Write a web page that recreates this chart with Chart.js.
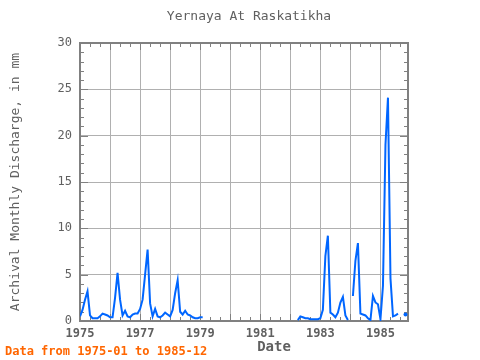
<!DOCTYPE html>
<html>
<head>
    <script src="https://cdn.jsdelivr.net/npm/chart.js"></script>
    <style>
        body { margin: 0; background: #fff; }
        #wrap { width: 480px; height: 360px; }
    </style>
</head>
<body>
    <div id="wrap"><canvas id="chart" width="480" height="360"></canvas></div>
    <script>
        // monthly discharge, mm (null = no data)
        const y1975 = [0.5, 1.2, 2.3, 3.2, 0.6, 0.3, 0.3, 0.3, 0.5, 0.8, 0.7, 0.6];
        const y1976 = [0.4, 0.4, 2.5, 5.2, 2.3, 0.6, 1.1, 0.5, 0.4, 0.7, 0.8, 0.8];
        const y1977 = [1.3, 2.3, 5.0, 7.7, 1.9, 0.5, 1.3, 0.5, 0.4, 0.6, 0.9, 0.7];
        const y1978 = [0.5, 1.2, 3.0, 4.4, 1.0, 0.7, 1.1, 0.7, 0.6, 0.4, 0.3, 0.3];
        const y1979 = [0.4, 0.4, null, null, null, null, null, null, null, null, null, null];
        const y1980 = [null, null, null, null, null, null, null, null, null, null, null, null];
        const y1981 = [null, null, null, null, null, null, null, null, null, null, null, null];
        const y1982 = [null, null, null, 0.1, 0.5, 0.4, 0.3, 0.3, 0.2, 0.2, 0.2, 0.2];
        const y1983 = [0.3, 1.2, 7.0, 9.2, 0.9, 0.7, 0.4, 0.9, 2.0, 2.6, 0.6, 0.1];
        const y1984 = [null, 2.7, 6.5, 8.4, 0.8, 0.7, 0.6, 0.3, 0.1, 2.7, 2.0, 1.8];
        const y1985 = [0.2, 3.8, 19.0, 24.1, 4.6, 0.5, 0.6, 0.8, null, null, 0.7, null];

        const startYear = 1975;
        const yTicks = [0, 5, 10, 15, 20, 25, 30];
        const xLabelYears = [1975, 1977, 1979, 1981, 1983, 1985];

        const values = [].concat(y1975, y1976, y1977, y1978, y1979, y1980,
                                 y1981, y1982, y1983, y1984, y1985);
        const points = values.map((v, i) => ({ x: startYear + i / 12, y: v }));

        const FONT = 'DejaVu Sans Mono';
        const TEXT = '#606060';
        const FRAME = '#808080';

        // frame with inward ticks, plus the title texts placed like the original
        const framePlugin = {
            id: 'frame',
            beforeDatasetsDraw(chart) {
                const { ctx, chartArea: a, scales } = chart;
                const xs = scales.x, ys = scales.y;
                ctx.save();
                ctx.strokeStyle = FRAME;
                ctx.lineWidth = 1;
                ctx.beginPath();
                for (let m = 0; m <= 132; m += 4) {
                    const px = Math.round(xs.getPixelForValue(startYear + m / 12)) + 0.5;
                    if (px > a.right) break;
                    const len = m % 12 === 0 ? 7 : 4;
                    ctx.moveTo(px, a.top); ctx.lineTo(px, a.top + len);
                    ctx.moveTo(px, a.bottom); ctx.lineTo(px, a.bottom - len);
                }
                for (let v = 0; v <= 30; v++) {
                    const py = Math.round(ys.getPixelForValue(v)) + 0.5;
                    const len = v % 5 === 0 ? 8 : 4;
                    ctx.moveTo(a.left, py); ctx.lineTo(a.left + len, py);
                    ctx.moveTo(a.right, py); ctx.lineTo(a.right - len, py);
                }
                ctx.stroke();
                ctx.lineWidth = 2;
                ctx.strokeRect(a.left, a.top, a.right - a.left, a.bottom - a.top);
                ctx.restore();
            },
            afterDraw(chart) {
                const ctx = chart.ctx;
                ctx.save();
                ctx.textBaseline = 'middle';
                ctx.textAlign = 'center';
                ctx.fillStyle = TEXT;
                ctx.font = '13px "' + FONT + '"';
                ctx.fillText('Yernaya At Raskatikha', 249, 17);
                ctx.font = 'bold 14px "' + FONT + '"';
                ctx.fillText('Date', 274, 347);
                ctx.textAlign = 'left';
                ctx.font = 'bold 12px "' + FONT + '"';
                ctx.fillStyle = '#ff6600';
                ctx.fillText('Data from 1975-01 to 1985-12', 5, 352);
                ctx.restore();
            }
        };

        const ctx = document.getElementById('chart').getContext('2d');
        new Chart(ctx, {
            type: 'line',
            data: {
                datasets: [{
                    label: 'Discharge',
                    data: points,
                    borderColor: '#0066ff',
                    backgroundColor: '#0066ff',
                    borderWidth: 2,
                    spanGaps: false,
                    tension: 0,
                    pointRadius: c => {
                        const i = c.dataIndex;
                        const prev = i > 0 ? values[i - 1] : null;
                        const next = i < values.length - 1 ? values[i + 1] : null;
                        return values[i] != null && prev == null && next == null ? 2 : 0;
                    },
                    pointBorderWidth: 0
                }]
            },
            plugins: [framePlugin],
            options: {
                responsive: false,
                animation: false,
                layout: { padding: { left: 0, right: 72, top: 43, bottom: 0 } },
                plugins: {
                    legend: { display: false },
                    tooltip: { enabled: false },
                    title: { display: false }
                },
                scales: {
                    x: {
                        type: 'linear',
                        min: startYear,
                        max: startYear + (values.length - 1) / 12,
                        afterFit: s => { s.height = 39; },
                        grid: { color: '#b0b0b0', lineWidth: 1, drawTicks: false },
                        border: { display: false },
                        ticks: {
                            stepSize: 1,
                            includeBounds: false,
                            autoSkip: false,
                            maxRotation: 0,
                            padding: 6,
                            color: TEXT,
                            font: { family: FONT, size: 12, weight: 'bold' },
                            callback: v => xLabelYears.includes(v) ? String(v) : ''
                        }
                    },
                    y: {
                        min: 0,
                        max: 30,
                        afterFit: s => { s.width = 80; },
                        afterBuildTicks: s => { s.ticks = yTicks.map(v => ({ value: v })); },
                        grid: { color: '#b0b0b0', lineWidth: 1, drawTicks: false },
                        border: { display: false },
                        ticks: {
                            padding: 8,
                            color: TEXT,
                            font: { family: FONT, size: 12 }
                        },
                        title: {
                            display: true,
                            text: 'Archival Monthly Discharge, in mm',
                            color: TEXT,
                            font: { family: FONT, size: 13, weight: 'normal' },
                            padding: { top: 8, bottom: 0 }
                        }
                    }
                }
            }
        });
    </script>
</body>
</html>
